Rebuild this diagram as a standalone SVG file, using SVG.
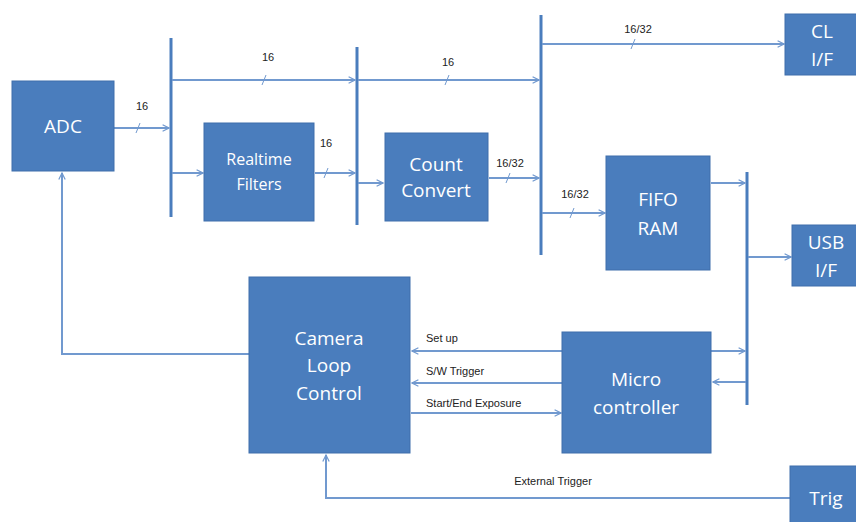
<svg xmlns="http://www.w3.org/2000/svg" width="856" height="522" viewBox="0 0 856 522">
<defs>
<marker id="ah" viewBox="0 0 10 10" refX="9" refY="5" markerWidth="8" markerHeight="8" markerUnits="userSpaceOnUse" orient="auto">
<path d="M1,1 L9,5 L1,9" fill="none" stroke="#7199cf" stroke-width="1.5"/>
</marker>
<style>
.box{fill:#4a7dbd;stroke:#3f6fab;stroke-width:1}
.bt{fill:#fff;font-family:"Open Sans","Liberation Sans",sans-serif;font-size:19px;text-anchor:middle}
.bts{fill:#fff;font-family:"Open Sans","Liberation Sans",sans-serif;font-size:16px;text-anchor:middle}
.bus{stroke:#4a7dbd;stroke-width:3;fill:none}
.ln{stroke:#7199cf;stroke-width:2;fill:none}
.ar{stroke:#7199cf;stroke-width:2;fill:none;marker-end:url(#ah)}
.tk{stroke:#7199cf;stroke-width:1}
.lb{fill:#222;font-family:"Liberation Sans",Arial,sans-serif;font-size:11px;text-anchor:middle}
.lbl{fill:#222;font-family:"Liberation Sans",Arial,sans-serif;font-size:11px}
</style>
</defs>
<g id="connectors">
<line class="bus" x1="171" y1="38" x2="171" y2="217"/>
<line class="bus" x1="357" y1="47" x2="357" y2="225"/>
<line class="bus" x1="541" y1="15" x2="541" y2="255"/>
<line class="bus" x1="747" y1="172" x2="747" y2="405"/>
<line class="ar" x1="114" y1="128" x2="169" y2="128"/>
<line class="tk" x1="136" y1="133" x2="140" y2="123"/>
<text class="lb" x="142" y="110">16</text>
<line class="ar" x1="172" y1="80" x2="355" y2="80"/>
<line class="tk" x1="262" y1="85" x2="266" y2="75"/>
<text class="lb" x="268" y="61">16</text>
<line class="ar" x1="172" y1="173" x2="203" y2="173"/>
<line class="ar" x1="315" y1="173" x2="355" y2="173"/>
<line class="tk" x1="324" y1="178" x2="328" y2="168"/>
<text class="lb" x="326" y="147">16</text>
<line class="ar" x1="358" y1="80" x2="539" y2="80"/>
<line class="tk" x1="445" y1="85" x2="449" y2="75"/>
<text class="lb" x="448" y="66">16</text>
<line class="ar" x1="358" y1="183" x2="383" y2="183"/>
<line class="ar" x1="489" y1="178" x2="539" y2="178"/>
<line class="tk" x1="506" y1="183" x2="510" y2="173"/>
<text class="lb" x="510" y="167">16/32</text>
<line class="ar" x1="542" y1="44" x2="784" y2="44"/>
<line class="tk" x1="631" y1="49" x2="635" y2="39"/>
<text class="lb" x="638" y="33">16/32</text>
<line class="ar" x1="542" y1="213" x2="605" y2="213"/>
<line class="tk" x1="570" y1="218" x2="574" y2="208"/>
<text class="lb" x="575" y="198">16/32</text>
<line class="ar" x1="711" y1="183" x2="745" y2="183"/>
<line class="ar" x1="748" y1="257" x2="791" y2="257"/>
<line class="ar" x1="562" y1="351" x2="412" y2="351"/>
<text class="lbl" x="426" y="342">Set up</text>
<line class="ar" x1="711" y1="351" x2="745" y2="351"/>
<line class="ar" x1="562" y1="383" x2="412" y2="383"/>
<text class="lbl" x="426" y="375">S/W Trigger</text>
<line class="ar" x1="746" y1="382" x2="713" y2="382"/>
<line class="ar" x1="411" y1="413" x2="561" y2="413"/>
<text class="lbl" x="426" y="407">Start/End Exposure</text>
<polyline class="ar" points="249,354 62,354 62,173"/>
<polyline class="ar" points="790,498 326,498 326,455"/>
<text class="lb" x="553" y="485">External Trigger</text>
</g>
<g id="adc"><rect class="box" x="12" y="81" width="102" height="90"/><text class="bt" x="63" y="133">ADC</text></g>
<g id="filters"><rect class="box" x="204" y="123" width="110" height="98"/><text class="bts" x="259" y="165">Realtime</text><text class="bts" x="259" y="190">Filters</text></g>
<g id="count"><rect class="box" x="385" y="133" width="103" height="88"/><text class="bt" x="436" y="171">Count</text><text class="bt" x="436" y="197">Convert</text></g>
<g id="cl"><rect class="box" x="785" y="14" width="75" height="61"/><text class="bt" x="822" y="38">CL</text><text class="bt" x="822" y="66">I/F</text></g>
<g id="fifo"><rect class="box" x="606" y="156" width="104" height="114"/><text class="bt" x="658" y="206">FIFO</text><text class="bt" x="658" y="235">RAM</text></g>
<g id="usb"><rect class="box" x="792" y="225" width="68" height="61"/><text class="bt" x="826" y="249">USB</text><text class="bt" x="826" y="277">I/F</text></g>
<g id="camera"><rect class="box" x="249" y="277" width="161" height="176"/><text class="bt" x="329" y="345">Camera</text><text class="bt" x="329" y="372">Loop</text><text class="bt" x="329" y="400">Control</text></g>
<g id="micro"><rect class="box" x="562" y="332" width="149" height="121"/><text class="bt" x="636" y="386">Micro</text><text class="bt" x="636" y="414">controller</text></g>
<g id="trig"><rect class="box" x="790" y="466" width="70" height="60"/><text class="bt" x="826" y="505">Trig</text></g>
</svg>
